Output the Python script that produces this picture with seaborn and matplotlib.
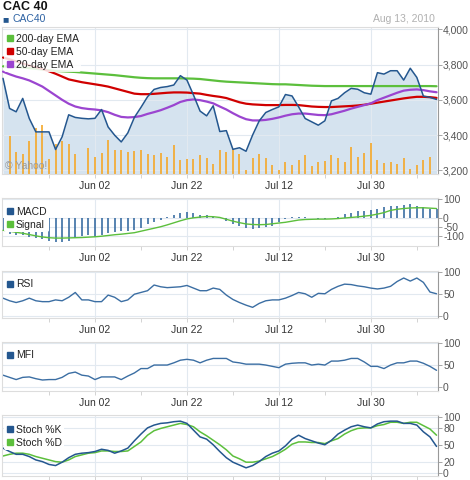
import numpy as np
import seaborn as sns
import matplotlib.pyplot as plt
from matplotlib.lines import Line2D

# ---- data (one value per trading day, May 13 -> Aug 13 2010)
close = [3722, 3551, 3532, 3608, 3494, 3418, 3418, 3418, 3318, 3390,
         3515, 3500, 3495, 3492, 3495, 3545, 3446, 3399, 3361, 3412,
         3500, 3557, 3617, 3659, 3670, 3675, 3684, 3737, 3712, 3627,
         3536, 3509, 3566, 3420, 3425, 3319, 3328, 3308, 3400, 3480,
         3528, 3545, 3560, 3630, 3622, 3560, 3494, 3475, 3456, 3481,
         3594, 3608, 3640, 3665, 3660, 3640, 3632, 3754, 3746, 3765,
         3765, 3712, 3779, 3727, 3621, 3614, 3602]
ema20 = [3760, 3745, 3732, 3722, 3710, 3693, 3675, 3650, 3625, 3600,
         3578, 3562, 3553, 3548, 3545, 3540, 3530, 3515, 3503, 3500,
         3502, 3508, 3520, 3530, 3541, 3555, 3570, 3588, 3598, 3602,
         3598, 3590, 3580, 3562, 3545, 3524, 3505, 3490, 3483, 3483,
         3486, 3492, 3500, 3510, 3518, 3522, 3522, 3518, 3514, 3513,
         3518, 3528, 3538, 3550, 3560, 3570, 3580, 3598, 3612, 3626,
         3640, 3652, 3657, 3659, 3655, 3648, 3643]
ema50 = [3840, 3830, 3818, 3806, 3795, 3785, 3775, 3762, 3748, 3732,
         3716, 3708, 3700, 3694, 3688, 3682, 3675, 3665, 3655, 3645,
         3635, 3632, 3632, 3634, 3637, 3640, 3642, 3642, 3641, 3638,
         3635, 3628, 3622, 3617, 3610, 3598, 3586, 3578, 3574, 3572,
         3570, 3570, 3570, 3571, 3571, 3570, 3566, 3562, 3560, 3559,
         3559, 3561, 3563, 3565, 3568, 3572, 3578, 3584, 3590, 3596,
         3602, 3608, 3613, 3617, 3617, 3615, 3611]
ema200 = [3790, 3788, 3786, 3784, 3780, 3776, 3772, 3768, 3764, 3762,
          3760, 3758, 3755, 3752, 3749, 3746, 3743, 3740, 3736, 3732,
          3728, 3725, 3723, 3722, 3722, 3722, 3722, 3722, 3721, 3720,
          3718, 3714, 3710, 3706, 3703, 3701, 3699, 3697, 3695, 3693,
          3691, 3689, 3688, 3688, 3686, 3684, 3682, 3680, 3679, 3678,
          3678, 3678, 3678, 3678, 3678, 3678, 3678, 3678, 3678, 3678,
          3678, 3678, 3678, 3678, 3678, 3678, 3677]
# volume in relative units (bar height, 0..147 spans the panel)
volume = [0, 38, 22, 20, 33, 46, 49, 15, 30, 33,
          30, 20, 0, 26, 17, 21, 34, 24, 24, 22,
          23, 24, 20, 19, 21, 17, 29, 14, 15, 15,
          19, 16, 10, 24, 22, 25, 20, 4, 16, 20,
          16, 9, 4, 12, 9, 14, 19, 8, 12, 13,
          19, 16, 12, 27, 17, 21, 31, 14, 11, 12,
          10, 16, 5, 9, 14, 17, 0]
macd = [-65, -85, -90, -90, -104, -109, -113, -122, -131, -128,
        -122, -109, -98, -91, -104, -94, -80, -76, -72, -72,
        -67, -54, -35, -20, -11, 3, 13, 26, 31, 26,
        17, 13, 7, -2, -17, -35, -43, -57, -61, -54,
        -48, -43, -24, -6, 2, 7, 2, -2, -6, -6,
        0, 7, 20, 26, 39, 35, 44, 50, 57, 63,
        63, 69, 72, 63, 57, 50, 45]
signal = [-67, -72, -78, -83, -90, -97, -103, -107, -109, -109,
          -108, -107, -106, -104, -102, -99, -95, -91, -88, -84,
          -80, -72, -64, -56, -48, -38, -27, -16, -6, 0,
          4, 7, 6, 2, -8, -18, -26, -33, -36, -37,
          -36, -32, -28, -24, -18, -12, -9, -8, -7, -7,
          -6, -4, -1, 2, 5, 9, 13, 20, 28, 40,
          46, 50, 53, 54, 54, 52, 50]
rsi = [40, 34, 30, 34, 40, 34, 32, 32, 36, 34,
       42, 53, 36, 36, 32, 32, 47, 42, 32, 36,
       49, 53, 57, 70, 66, 64, 65, 66, 69, 63,
       57, 57, 63, 60, 47, 37, 30, 24, 19, 28,
       34, 36, 36, 40, 46, 53, 50, 42, 51, 50,
       60, 67, 72, 71, 68, 66, 63, 61, 63, 67,
       78, 86, 79, 86, 76, 54, 50]
mfi = [28, 23, 18, 23, 24, 20, 17, 18, 18, 23,
       32, 35, 28, 26, 18, 24, 24, 24, 18, 26,
       33, 43, 43, 51, 51, 51, 56, 62, 64, 62,
       56, 62, 66, 66, 66, 58, 56, 53, 53, 53,
       51, 48, 45, 53, 55, 56, 56, 51, 53, 51,
       60, 60, 62, 66, 66, 58, 48, 48, 43, 51,
       56, 56, 60, 60, 55, 48, 39]
stoch_k = [45, 39, 34, 34, 30, 24, 21, 16, 14, 20,
           28, 34, 36, 37, 39, 43, 41, 36, 40, 45,
           58, 70, 81, 86, 89, 90, 92, 93, 89, 77,
           65, 61, 51, 39, 28, 20, 15, 10, 14, 21,
           30, 36, 40, 49, 61, 68, 62, 58, 54, 51,
           59, 70, 77, 83, 86, 83, 81, 88, 92, 93,
           93, 89, 89, 86, 74, 65, 48]
stoch_d = [31, 34, 36, 36, 34, 30, 27, 24, 21, 20,
           24, 30, 33, 36, 37, 40, 40, 39, 39, 40,
           48, 56, 68, 76, 80, 83, 86, 89, 87, 83,
           74, 67, 59, 51, 42, 31, 26, 20, 20, 22,
           26, 30, 36, 43, 52, 56, 56, 55, 55, 53,
           58, 62, 70, 76, 80, 81, 81, 85, 87, 91,
           91, 89, 91, 91, 85, 79, 68]

date_ticks = [14, 28, 42, 56]
date_labels = ["Jun 02", "Jun 22", "Jul 12", "Jul 30"]
minor_ticks = [7, 21, 35, 49, 63]

idx = np.arange(len(close))

sns.set_style("white")
plt.rcParams['font.family'] = ['Liberation Sans', 'DejaVu Sans']

BLUE = '#24578f'
LINE = '#3b6ea3'
GREEN = '#5cbf3c'
RED = '#d00000'
PURPLE = '#9b45d0'
ORANGE = '#f5a623'
GRID = '#e2e9f0'

fig = plt.figure(figsize=(4.7, 4.8), dpi=100)
L, W = 0.0036, 0.9273


def style_panel(ax, yticks, ylabels, ylim, xlabels=True, gz=0):
    ax.set_xlim(-0.2, 66.15)
    ax.set_ylim(*ylim)
    ax.yaxis.tick_right()
    ax.set_yticks(yticks)
    ax.set_yticklabels(ylabels)
    ax.set_xticks(date_ticks)
    ax.set_xticks(minor_ticks, minor=True)
    ax.set_xticklabels(date_labels if xlabels else [])
    ax.tick_params(axis='y', right=True, left=False, length=3, width=0.6,
                   color='#999999', labelsize=7.5, labelcolor='#555555', pad=1)
    ax.tick_params(axis='x', which='both', bottom=True, length=3, width=0.6,
                   color='#cccccc', labelsize=7.5, labelcolor='#333333', pad=2)
    for y in yticks:
        ax.axhline(y, color=GRID, lw=0.8, zorder=gz)
    for x in date_ticks:
        ax.axvline(x, color=GRID, lw=0.8, zorder=gz)
    for s in ['top', 'left', 'bottom']:
        ax.spines[s].set_color('#dddddd')
        ax.spines[s].set_linewidth(0.8)
    ax.spines['right'].set_color('#999999')
    ax.spines['right'].set_linewidth(0.8)
    ax.set_xlabel('')
    ax.set_ylabel('')


def square_legend(ax, labels, colors, loc_y, alpha=1.0):
    handles = [Line2D([], [], marker='s', ls='none', color=c, markersize=5) for c in colors]
    leg = ax.legend(handles, labels, loc='upper left', bbox_to_anchor=(0.0, loc_y),
                    frameon=True, fontsize=7.5, handlelength=0.6, handletextpad=0.3,
                    borderpad=0.25, labelspacing=0.3, borderaxespad=0.2)
    leg.get_frame().set_facecolor('white')
    leg.get_frame().set_edgecolor('none')
    leg.get_frame().set_alpha(alpha)
    for t in leg.get_texts():
        t.set_color('#222222')
    leg.set_zorder(10)


# ---- main price panel
ax = fig.add_axes([L, 0.6375, W, 0.3069])
ax.fill_between(idx, close, 3100, color='#d5e3ef', zorder=1, lw=0)
# volume bars share the x scale, heights in axes fraction
ax.vlines(idx, 0, np.array(volume) / 147.3, transform=ax.get_xaxis_transform(),
          color=ORANGE, lw=1.3, alpha=0.9, zorder=2)
sns.lineplot(x=idx, y=ema200, ax=ax, color=GREEN, lw=1.6, zorder=4)
sns.lineplot(x=idx, y=ema50, ax=ax, color=RED, lw=1.6, zorder=4)
sns.lineplot(x=idx, y=ema20, ax=ax, color=PURPLE, lw=1.6, zorder=4)
sns.lineplot(x=idx, y=close, ax=ax, color=BLUE, lw=1.1, zorder=5)
style_panel(ax, [3200, 3400, 3600, 3800, 4000],
            ['3,200', '3,400', '3,600', '3,800', '4,000'], (3179, 4015), gz=1.5)
square_legend(ax, ['200-day EMA', '50-day EMA', '20-day EMA'],
              [GREEN, RED, PURPLE], 0.985, alpha=0.85)
ax.text(0.008, 0.035, '\u00a9 Yahoo!', transform=ax.transAxes, fontsize=7.5,
        color='#9a9a9a', zorder=6)

# ---- MACD
ax2 = fig.add_axes([L, 0.4881, W, 0.0988])
ax2.vlines(idx, 0, macd, color=LINE, lw=1.2, zorder=2)
sns.lineplot(x=idx, y=signal, ax=ax2, color=GREEN, lw=1.0, zorder=3)
style_panel(ax2, [-100, -50, 0, 100], ['-100', '-50', '0', '100'], (-150, 105))
square_legend(ax2, ['MACD', 'Signal'], [BLUE, GREEN], 0.92)

# ---- RSI
ax3 = fig.add_axes([L, 0.3369, W, 0.0985])
sns.lineplot(x=idx, y=rsi, ax=ax3, color=LINE, lw=1.0)
style_panel(ax3, [0, 50, 100], ['0', '50', '100'], (-6, 102))
square_legend(ax3, ['RSI'], [BLUE], 0.92)

# ---- MFI
ax4 = fig.add_axes([L, 0.1854, W, 0.1027])
sns.lineplot(x=idx, y=mfi, ax=ax4, color=LINE, lw=1.0)
style_panel(ax4, [0, 50, 100], ['0', '50', '100'], (-8, 104))
square_legend(ax4, ['MFI'], [BLUE], 0.92)

# ---- Stochastics
ax5 = fig.add_axes([L, 0.0090, W, 0.1265])
sns.lineplot(x=idx, y=stoch_d, ax=ax5, color=GREEN, lw=1.1)
sns.lineplot(x=idx, y=stoch_k, ax=ax5, color=BLUE, lw=1.1)
style_panel(ax5, [0, 20, 50, 80, 100], ['0', '20', '50', '80', '100'], (-4, 104),
            xlabels=False)
square_legend(ax5, ['Stoch %K', 'Stoch %D'], [BLUE, GREEN], 0.92)

# ---- header
fig.text(0.006, 0.997, 'CAC 40', fontsize=9, fontweight='bold', color='#111111',
         va='top')
fig.text(0.006, 0.9705, '\u25a0', fontsize=7.5, color=BLUE, va='top')
fig.text(0.026, 0.9705, 'CAC40', fontsize=7.5, color='#2d62a3', va='top')
fig.text(0.925, 0.9705, 'Aug 13, 2010', fontsize=7.5, color='#b0b0b0', va='top',
         ha='right')

fig.savefig('out.png', dpi=100)
